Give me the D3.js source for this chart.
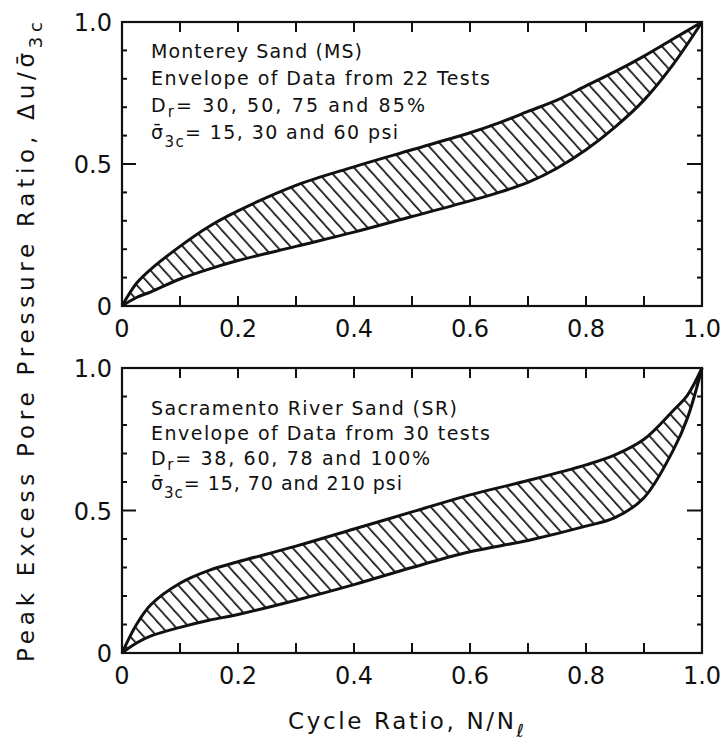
<!DOCTYPE html>
<html>
<head>
<meta charset="utf-8">
<script src="https://cdn.jsdelivr.net/npm/d3@7"></script>
<style>
  body { margin: 0; background: #fff; }
  text { font-family: "DejaVu Sans", sans-serif; fill: #111; }
</style>
</head>
<body>
<div id="chart"></div>
<script>
// cycle ratio N/Nl, sample positions along the envelopes
const msX     = [0, 0.025, 0.05, 0.1, 0.15, 0.2, 0.3, 0.4, 0.5, 0.6, 0.65, 0.7, 0.75, 0.8, 0.85, 0.9, 0.95, 1.0];
const msUpper = [0, 0.08, 0.13, 0.21, 0.28, 0.335, 0.425, 0.49, 0.55, 0.61, 0.645, 0.685, 0.725, 0.775, 0.825, 0.88, 0.94, 1.0];
const msLower = [0, 0.03, 0.05, 0.095, 0.13, 0.16, 0.21, 0.26, 0.315, 0.37, 0.4, 0.435, 0.485, 0.55, 0.63, 0.725, 0.85, 1.0];

const srX     = [0, 0.025, 0.05, 0.1, 0.15, 0.2, 0.3, 0.4, 0.5, 0.6, 0.7, 0.8, 0.85, 0.9, 0.95, 0.975, 1.0];
const srUpper = [0, 0.1, 0.17, 0.245, 0.29, 0.32, 0.375, 0.435, 0.495, 0.555, 0.605, 0.66, 0.695, 0.75, 0.85, 0.905, 1.0];
const srLower = [0, 0.035, 0.06, 0.09, 0.115, 0.135, 0.185, 0.24, 0.3, 0.355, 0.395, 0.445, 0.475, 0.545, 0.71, 0.825, 1.0];

// note lines: [main text, subscript, rest]
const msNotes = [
  ["Monterey Sand (MS)", "", ""],
  ["Envelope of Data from 22 Tests", "", ""],
  ["D", "r", "= 30, 50, 75 and 85%"],
  ["σ̄", "3c", "= 15, 30 and 60 psi"]
];
const srNotes = [
  ["Sacramento River Sand (SR)", "", ""],
  ["Envelope of Data from 30 tests", "", ""],
  ["D", "r", "= 38, 60, 78 and 100%"],
  ["σ̄", "3c", "= 15, 70 and 210 psi"]
];

const xTicks = [0.1, 0.2, 0.3, 0.4, 0.5, 0.6, 0.7, 0.8, 0.9];
const xLabelVals = [0, 0.2, 0.4, 0.6, 0.8, 1.0];
const xTickLabels = ["0", "0.2", "0.4", "0.6", "0.8", "1.0"];
const yMinorTicks = [0.1, 0.2, 0.3, 0.4, 0.6, 0.7, 0.8, 0.9];
const yLabelVals = [0, 0.5, 1.0];
const yTickLabels = ["0", "0.5", "1.0"];

const yTitle = "Peak Excess Pore Pressure Ratio, Δu/σ̄";
const xTitle = "Cycle Ratio, N/N";

const width = 723, height = 746;
const left = 122, right = 702;
const ink = "#111";

const svg = d3.select("#chart").append("svg")
    .attr("width", width)
    .attr("height", height);

// hatch pattern for the envelopes
svg.append("defs").append("pattern")
    .attr("id", "hatch")
    .attr("patternUnits", "userSpaceOnUse")
    .attr("width", 10)
    .attr("height", 10)
    .attr("patternTransform", "rotate(-42)")
  .append("rect")
    .attr("x", 0).attr("y", 0)
    .attr("width", 1.7).attr("height", 10)
    .attr("fill", ink);

const x = d3.scaleLinear().domain([0, 1]).range([left, right]);
const curve = d3.curveCatmullRom.alpha(0.5);

function drawPanel(top, bottom, xs, upper, lower, notes, noteY, noteW) {
  const y = d3.scaleLinear().domain([0, 1]).range([bottom, top]);
  const g = svg.append("g");

  const pts = xs.map((d, i) => ({x: d, u: upper[i], l: lower[i]}));

  g.append("path")
      .datum(pts)
      .attr("fill", "url(#hatch)")
      .attr("d", d3.area()
        .x(d => x(d.x))
        .y0(d => y(d.l))
        .y1(d => y(d.u))
        .curve(curve));

  ["u", "l"].forEach(k => {
    g.append("path")
        .datum(pts)
        .attr("fill", "none")
        .attr("stroke", ink)
        .attr("stroke-width", 3)
        .attr("d", d3.line()
          .x(d => x(d.x))
          .y(d => y(d[k]))
          .curve(curve));
  });

  // frame
  g.append("rect")
      .attr("x", left).attr("y", top)
      .attr("width", right - left).attr("height", bottom - top)
      .attr("fill", "none")
      .attr("stroke", ink)
      .attr("stroke-width", 2.2);

  // inward ticks drawn as small filled rects
  const yAll = yMinorTicks.concat([0.5]);
  g.selectAll("rect.xb").data(xTicks).enter().append("rect")
      .attr("class", "xb")
      .attr("x", v => x(v) - 1).attr("y", bottom - 10)
      .attr("width", 2).attr("height", 10)
      .attr("fill", ink);
  g.selectAll("rect.xt").data(xTicks).enter().append("rect")
      .attr("class", "xt")
      .attr("x", v => x(v) - 1).attr("y", top)
      .attr("width", 2).attr("height", 10)
      .attr("fill", ink);
  g.selectAll("rect.yl").data(yAll).enter().append("rect")
      .attr("class", "yl")
      .attr("x", left).attr("y", v => y(v) - 1)
      .attr("width", v => v === 0.5 ? 14 : 5).attr("height", 2)
      .attr("fill", ink);
  g.selectAll("rect.yr").data(yAll).enter().append("rect")
      .attr("class", "yr")
      .attr("x", v => right - (v === 0.5 ? 15 : 5)).attr("y", v => y(v) - 1)
      .attr("width", v => v === 0.5 ? 15 : 5).attr("height", 2)
      .attr("fill", ink);

  // tick labels
  g.selectAll(".xl").data(xLabelVals).join("text")
      .attr("x", v => x(v))
      .attr("y", bottom + 31)
      .attr("text-anchor", "middle")
      .attr("font-size", 24)
      .text((v, i) => xTickLabels[i]);
  g.selectAll(".yll").data(yLabelVals).join("text")
      .attr("x", left - 10)
      .attr("y", v => y(v) + 9)
      .attr("text-anchor", "end")
      .attr("font-size", 24)
      .text((v, i) => yTickLabels[i]);

  // notes
  notes.forEach((n, i) => {
    const t = g.append("text")
        .attr("x", 151)
        .attr("y", noteY[i])
        .attr("font-size", 19)
        .attr("textLength", noteW[i])
        .attr("lengthAdjust", "spacing");
    t.append("tspan").text(n[0]);
    if (n[1]) {
      const sub = n[1] === "r" ? 5 : 8;
      t.append("tspan").attr("font-size", 15).attr("dy", sub).text(n[1]);
      t.append("tspan").attr("dy", -sub).text(n[2]);
    }
  });
}

drawPanel(22, 306, msX, msUpper, msLower, msNotes, [58, 85, 112, 139], [211, 339, 274, 247]);
drawPanel(368, 653, srX, srUpper, srLower, srNotes, [415, 440, 465, 490], [306, 339, 279, 251]);

// y title
const yt = svg.append("text")
    .attr("transform", "translate(34,662) rotate(-90)")
    .attr("font-size", 23)
    .attr("textLength", 640)
    .attr("lengthAdjust", "spacing");
yt.append("tspan").text(yTitle);
yt.append("tspan").attr("font-size", 18).attr("dy", 8).text("3c");

// x title
const xt = svg.append("text")
    .attr("x", 288)
    .attr("y", 729)
    .attr("font-size", 23)
    .attr("textLength", 236)
    .attr("lengthAdjust", "spacing");
xt.append("tspan").text(xTitle);
xt.append("tspan").attr("font-size", 18).attr("dy", 8).text("ℓ");
</script>
</body>
</html>
